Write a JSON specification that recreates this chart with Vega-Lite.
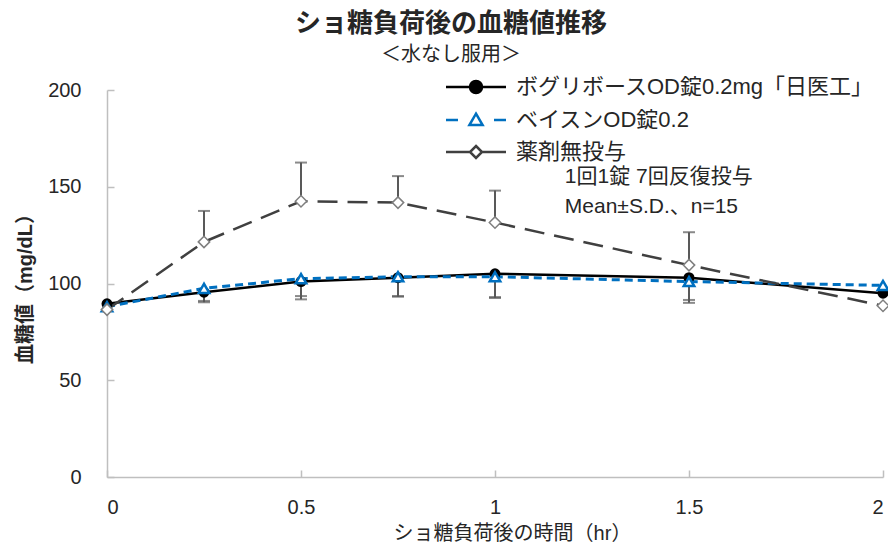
{
  "$schema": "https://vega.github.io/schema/vega-lite/v6.json",
  "width": 776,
  "height": 387,
  "autosize": {"type": "none"},
  "padding": {"left": 107, "top": 90, "right": 5, "bottom": 74},
  "background": "white",
  "config": {
    "font": "Liberation Sans, Noto Sans CJK JP",
    "view": {"stroke": null},
    "axis": {
      "grid": false,
      "domainColor": "#BFBFBF",
      "domainWidth": 1.5,
      "tickColor": "#BFBFBF",
      "tickWidth": 1.5,
      "tickSize": -7,
      "labelFontSize": 20,
      "labelColor": "#262626",
      "labelFont": "Liberation Sans, Noto Sans CJK JP",
      "titleFont": "Liberation Sans, Noto Sans CJK JP",
      "titleFontSize": 20,
      "titleColor": "#262626"
    }
  },
  "title": {
    "text": "ショ糖負荷後の血糖値推移",
    "subtitle": "＜水なし服用＞",
    "anchor": "middle",
    "dx": -44,
    "offset": 11,
    "font": "Noto Sans CJK JP",
    "fontSize": 26,
    "fontWeight": "bold",
    "color": "#262626",
    "subtitleFont": "Noto Sans CJK JP",
    "subtitleFontSize": 20,
    "subtitleColor": "#262626",
    "subtitlePadding": 8
  },
  "data": {
    "values": [
      {"series": "ボグリボースOD錠0.2mg「日医工」", "t": 0, "mean": 89.5, "err": null},
      {"series": "ボグリボースOD錠0.2mg「日医工」", "t": 0.25, "mean": 95.5, "err": 90.3},
      {"series": "ボグリボースOD錠0.2mg「日医工」", "t": 0.5, "mean": 101, "err": 91.8},
      {"series": "ボグリボースOD錠0.2mg「日医工」", "t": 0.75, "mean": 103, "err": 93.2},
      {"series": "ボグリボースOD錠0.2mg「日医工」", "t": 1, "mean": 105, "err": 93},
      {"series": "ボグリボースOD錠0.2mg「日医工」", "t": 1.5, "mean": 103, "err": 90},
      {"series": "ボグリボースOD錠0.2mg「日医工」", "t": 2, "mean": 95, "err": null},
      {"series": "ベイスンOD錠0.2", "t": 0, "mean": 88, "err": null},
      {"series": "ベイスンOD錠0.2", "t": 0.25, "mean": 97.5, "err": 91},
      {"series": "ベイスンOD錠0.2", "t": 0.5, "mean": 102.5, "err": 93.5},
      {"series": "ベイスンOD錠0.2", "t": 0.75, "mean": 103.5, "err": 93.5},
      {"series": "ベイスンOD錠0.2", "t": 1, "mean": 103.5, "err": 92.5},
      {"series": "ベイスンOD錠0.2", "t": 1.5, "mean": 101, "err": 91.5},
      {"series": "ベイスンOD錠0.2", "t": 2, "mean": 99, "err": null},
      {"series": "薬剤無投与", "t": 0, "mean": 86.5, "err": null},
      {"series": "薬剤無投与", "t": 0.25, "mean": 121.5, "err": 137.5},
      {"series": "薬剤無投与", "t": 0.5, "mean": 142.5, "err": 162.5},
      {"series": "薬剤無投与", "t": 0.75, "mean": 141.8, "err": 155.5},
      {"series": "薬剤無投与", "t": 1, "mean": 131.5, "err": 148},
      {"series": "薬剤無投与", "t": 1.5, "mean": 109.5, "err": 126.5},
      {"series": "薬剤無投与", "t": 2, "mean": 88.5, "err": null}
    ]
  },
  "encoding": {
    "x": {
      "field": "t", "type": "quantitative",
      "scale": {"domain": [0, 2], "nice": false, "zero": false},
      "axis": {
        "values": [0, 0.5, 1, 1.5, 2],
        "format": "~g",
        "title": "ショ糖負荷後の時間（hr）",
        "titleFontWeight": "normal",
        "labelPadding": 27,
        "titlePadding": 6,
        "titleX": 405
      }
    },
    "y": {
      "field": "mean", "type": "quantitative",
      "scale": {"domain": [0, 200], "nice": false},
      "axis": {
        "values": [0, 50, 100, 150, 200],
        "title": "血糖値（mg/dL）",
        "titleFontWeight": "bold",
        "labelPadding": 33,
        "titlePadding": 12
      }
    }
  },
  "layer": [
    {
      "transform": [{"filter": "datum.series === 'ボグリボースOD錠0.2mg「日医工」'"}],
      "mark": {"type": "line", "strokeWidth": 2.5, "clip": false},
      "encoding": {
        "color": {
          "field": "series", "type": "nominal",
          "scale": {"domain": ["ボグリボースOD錠0.2mg「日医工」", "ベイスンOD錠0.2", "薬剤無投与"], "range": ["#000000", "#0070C0", "#404040"]},
          "legend": {
            "title": null,
            "orient": "none",
            "legendX": 358,
            "legendY": -14,
            "labelFontSize": 22,
            "labelColor": "#262626",
            "labelFont": "Liberation Sans, Noto Sans CJK JP",
            "labelOffset": 29,
            "rowPadding": 10,
            "symbolSize": 144,
            "labelLimit": 500,
            "encode": {
              "symbols": {
                "update": {
                  "shape": {"signal": "datum.value === 'ボグリボースOD錠0.2mg「日医工」' ? 'M-5,0H-1M1,0H5M1,0A1,1 0 1,1 -1,0A1,1 0 1,1 1,0Z' : datum.value === 'ベイスンOD錠0.2' ? 'M-5,0H-3M3,0H5M0,-1.05L1.1,0.85L-1.1,0.85Z' : 'M-5,0H-1M1,0H5M0,-1L1,0L0,1L-1,0Z'"},
                  "size": {"value": 144},
                  "fill": {"signal": "datum.value === 'ボグリボースOD錠0.2mg「日医工」' ? '#000000' : '#ffffff'"},
                  "stroke": {"signal": "datum.value === 'ボグリボースOD錠0.2mg「日医工」' ? '#000000' : datum.value === 'ベイスンOD錠0.2' ? '#0070C0' : '#404040'"},
                  "strokeWidth": {"value": 2.5},
                  "strokeDash": {"value": []},
                  "opacity": {"value": 1}
                }
              }
            }
          }
        }
      }
    },
    {
      "transform": [{"filter": "datum.series === 'ベイスンOD錠0.2'"}],
      "mark": {"type": "line", "strokeWidth": 3, "strokeDash": [8, 5], "clip": false},
      "encoding": {"color": {"field": "series", "type": "nominal"}}
    },
    {
      "transform": [{"filter": "datum.series === '薬剤無投与'"}],
      "mark": {"type": "line", "strokeWidth": 2.5, "strokeDash": [20, 10], "clip": false},
      "encoding": {"color": {"field": "series", "type": "nominal"}}
    },
    {
      "transform": [{"filter": "datum.err != null"}],
      "mark": {"type": "rule", "color": "#595959", "strokeWidth": 2},
      "encoding": {"y2": {"field": "err"}}
    },
    {
      "transform": [{"filter": "datum.err != null"}],
      "mark": {"type": "tick", "color": "#595959", "orient": "horizontal", "size": 12, "thickness": 2},
      "encoding": {"y": {"field": "err", "type": "quantitative"}}
    },
    {
      "transform": [{"filter": "datum.series === 'ボグリボースOD錠0.2mg「日医工」'"}],
      "mark": {"type": "point", "shape": "circle", "filled": true, "color": "#000000", "size": 120, "opacity": 1, "clip": false}
    },
    {
      "transform": [{"filter": "datum.series === 'ベイスンOD錠0.2'"}],
      "mark": {"type": "point", "shape": "triangle-up", "filled": true, "fill": "#ffffff", "stroke": "#0070C0", "strokeWidth": 2.5, "size": 110, "opacity": 1, "clip": false}
    },
    {
      "transform": [{"filter": "datum.series === '薬剤無投与'"}],
      "mark": {"type": "point", "shape": "diamond", "filled": true, "fill": "#ffffff", "stroke": "#7F7F7F", "strokeWidth": 1.5, "size": 130, "opacity": 1, "clip": false}
    },
    {
      "transform": [{"filter": "datum.series === '薬剤無投与' && datum.t === 0"}],
      "mark": {"type": "text", "text": "1回1錠 7回反復投与", "align": "left", "baseline": "middle", "fontSize": 21, "color": "#262626", "font": "Liberation Sans, Noto Sans CJK JP", "clip": false},
      "encoding": {"x": {"datum": 1.18}, "y": {"datum": 155}}
    },
    {
      "transform": [{"filter": "datum.series === '薬剤無投与' && datum.t === 0"}],
      "mark": {"type": "text", "text": "Mean±S.D.、n=15", "align": "left", "baseline": "middle", "fontSize": 21, "color": "#262626", "font": "Liberation Sans, Noto Sans CJK JP", "clip": false},
      "encoding": {"x": {"datum": 1.18}, "y": {"datum": 139.5}}
    }
  ]
}
